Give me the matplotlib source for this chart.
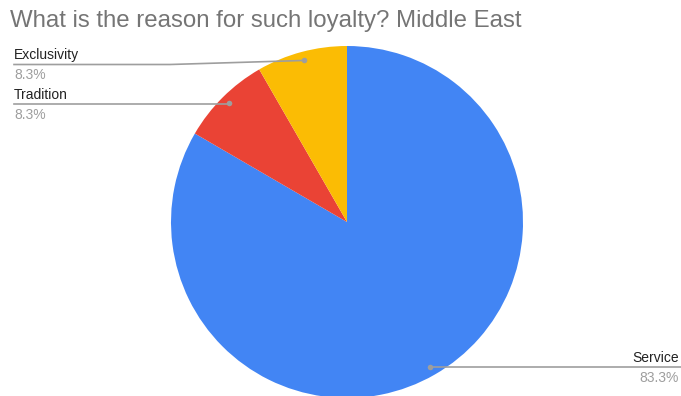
import numpy as np
import matplotlib
matplotlib.use("Agg")
import matplotlib.pyplot as plt

plt.rcParams['font.family'] = ['Liberation Sans', 'DejaVu Sans']

title = "What is the reason for such loyalty? Middle East"
categories = ["Service", "Tradition", "Exclusivity"]
shares = [83.3, 8.3, 8.3]
colors = ["#4285F4", "#EA4335", "#FBBC04"]

W, H = 681, 396
fig = plt.figure(figsize=(W / 100, H / 100), dpi=100)

# pie geometry in pixels
cx, cy, R = 347, 222, 176
ax = fig.add_axes([(cx - R) / W, (H - cy - R) / H, 2 * R / W, 2 * R / H])

wedges, _ = ax.pie(shares, colors=colors, startangle=90, counterclock=False,
                   radius=1, wedgeprops=dict(linewidth=0))
ax.set_xlim(-1, 1)
ax.set_ylim(-1, 1)
ax.set_aspect('equal')
ax.axis('off')


def px(x, y):
    """pixel position (from top-left) -> data coordinates of the pie axes"""
    return (x - cx) / R, (cy - y) / R


line_col = "#9e9e9e"
label_col = "#222222"
pct_col = "#9e9e9e"

# label layout: (text x, name baseline y, pct baseline y, line y, align, elbow x)
layout = {
    "Exclusivity": (14, 58.5, 79, 64.5, 'left', 170),
    "Tradition": (14, 98.5, 118.5, 104, 'left', None),
    "Service": (679, 362, 382, 367, 'right', None),
}

for w, name, val in zip(wedges, categories, shares):
    mid = np.deg2rad((w.theta1 + w.theta2) / 2)
    dx, dy = 0.95 * np.cos(mid), 0.95 * np.sin(mid)
    tx, ny, py_, ly, ha, elbow = layout[name]
    edge = 14 if ha == 'left' else 681
    pts = [px(edge, ly)]
    if elbow is not None:
        pts.append(px(elbow, ly))
    else:
        pts.append((dx, px(0, ly)[1]))
    pts.append((dx, dy))
    xs, ys = zip(*pts)
    ax.plot(xs, ys, color=line_col, lw=1.2, clip_on=False, zorder=3)
    ax.plot([dx], [dy], 'o', color=line_col, ms=4, mec='none', clip_on=False, zorder=4)
    x0, y0 = px(tx, ny)
    ax.text(x0, y0, name, ha=ha, va='baseline', fontsize=10, color=label_col, clip_on=False)
    x1, y1 = px(tx, py_)
    ax.text(x1, y1, f"{val:.1f}%", ha=ha, va='baseline', fontsize=10, color=pct_col, clip_on=False)

fig.text(10 / W, 1 - 27 / H, title, ha='left', va='baseline', fontsize=17.3, color="#757575")

fig.savefig("out.png", dpi=100)
